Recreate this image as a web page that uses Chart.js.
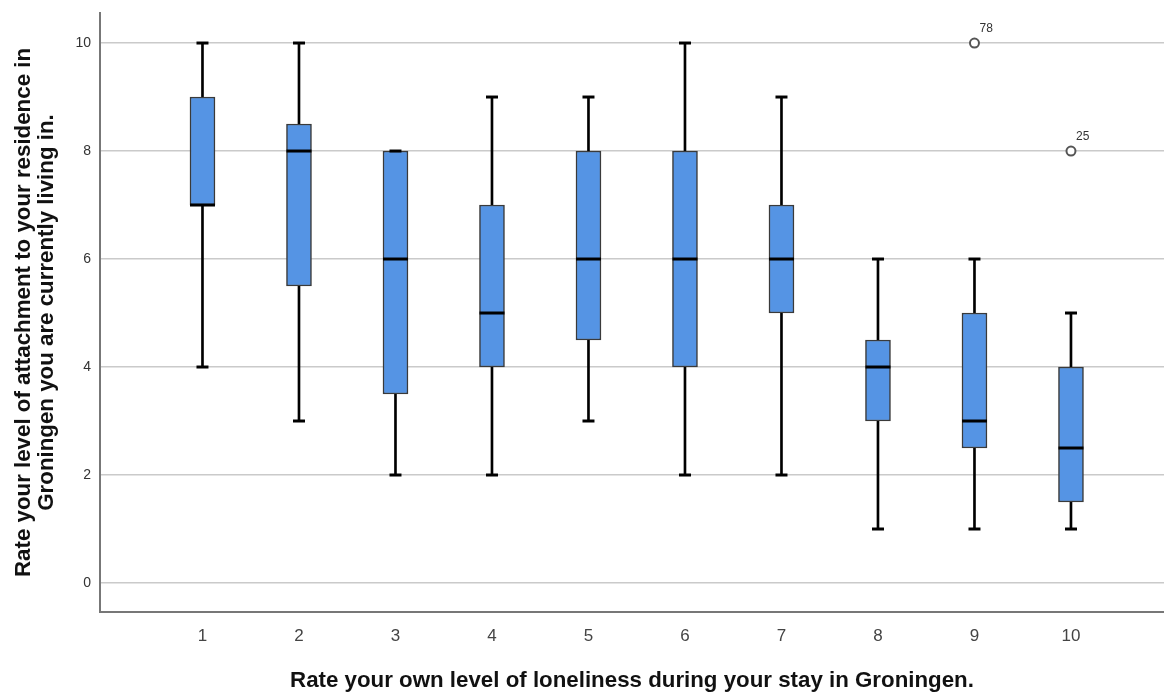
<!DOCTYPE html>
<html>
<head>
<meta charset="utf-8">
<script src="https://cdn.jsdelivr.net/npm/chart.js@4/dist/chart.umd.min.js"></script>
<style>
  html, body { margin: 0; padding: 0; background: #fff; overflow: hidden; }
  #wrap { width: 1164px; height: 692px; }
  canvas { display: block; }
</style>
</head>
<body>
<div id="wrap"><canvas id="box"></canvas></div>
<script>
// boxplot summary, one entry per loneliness rating
const categories = [1, 2, 3, 4, 5, 6, 7, 8, 9, 10];
const whiskerLow = [4, 3, 2, 2, 3, 2, 2, 1, 1, 1];
const q1 = [7, 5.5, 3.5, 4, 4.5, 4, 5, 3, 2.5, 1.5];
const median = [7, 8, 6, 5, 6, 6, 6, 4, 3, 2.5];
const q3 = [9, 8.5, 8, 7, 8, 8, 7, 4.5, 5, 4];
const whiskerHigh = [10, 10, 8, 9, 9, 10, 9, 6, 6, 5];

// outliers (case numbers shown next to the circles)
const outlierCategory = [9, 10];
const outlierValue = [10, 8];
const outlierCase = ['78', '25'];

const yTicks = [0, 2, 4, 6, 8, 10];

const FONT = 'Arial, "Liberation Sans", sans-serif';

const lowerWhisker = categories.map((c, i) => ({ x: c, y: [whiskerLow[i], q1[i]] }));
const upperWhisker = categories.map((c, i) => ({ x: c, y: [q3[i], whiskerHigh[i]] }));
const boxes = categories.map((c, i) => ({ x: c, y: [q1[i], q3[i]] }));
const caps = categories.flatMap((c, i) => [{ x: c, y: whiskerLow[i] }, { x: c, y: whiskerHigh[i] }]);
const medians = categories.map((c, i) => ({ x: c, y: median[i] }));
const outliers = outlierCategory.map((c, i) => ({ x: c, y: outlierValue[i] }));

// case labels beside outlier circles
const outlierLabels = {
  id: 'outlierLabels',
  afterDatasetsDraw(chart) {
    const { ctx, scales } = chart;
    ctx.save();
    ctx.font = '12px ' + FONT;
    ctx.fillStyle = '#333';
    ctx.textBaseline = 'middle';
    ctx.textAlign = 'left';
    outlierCase.forEach((t, i) => {
      const px = scales.x.getPixelForValue(outlierCategory[i]);
      const py = scales.y.getPixelForValue(outlierValue[i]);
      ctx.fillText(t, px + 5, py - 14);
    });
    ctx.restore();
  }
};

new Chart(document.getElementById('box'), {
  type: 'bar',
  data: {
    datasets: [
      {
        data: lowerWhisker, backgroundColor: '#000', borderWidth: 0,
        barThickness: 2, grouped: false, order: 5
      },
      {
        data: upperWhisker, backgroundColor: '#000', borderWidth: 0,
        barThickness: 2, grouped: false, order: 5
      },
      {
        data: boxes, backgroundColor: '#5594e4', borderColor: '#3a3a3a',
        borderWidth: 1.5, borderSkipped: false, barThickness: 25, grouped: false, order: 4
      },
      {
        type: 'line', data: caps, showLine: false, pointStyle: 'line',
        pointRadius: 6, borderColor: '#000', pointBorderWidth: 3, order: 3
      },
      {
        type: 'line', data: medians, showLine: false, pointStyle: 'line',
        pointRadius: 12.5, borderColor: '#000', pointBorderWidth: 3, order: 2
      },
      {
        type: 'line', data: outliers, showLine: false, pointStyle: 'circle',
        pointRadius: 4.5, pointBackgroundColor: '#fff', borderColor: '#555',
        pointBorderWidth: 2, order: 1
      }
    ]
  },
  options: {
    responsive: true,
    maintainAspectRatio: false,
    animation: false,
    layout: { autoPadding: false, padding: { top: 13, right: 0, left: 0, bottom: 0 } },
    plugins: { legend: { display: false }, tooltip: { enabled: false } },
    scales: {
      x: {
        type: 'linear',
        min: -0.062,
        max: 10.964,
        offset: false,
        afterBuildTicks: s => { s.ticks = categories.map(v => ({ value: v })); },
        afterFit: s => { s.height = 80; s.paddingLeft = 0; s.paddingRight = 0; },
        grid: { display: false, drawTicks: false },
        border: { color: '#777', width: 2 },
        ticks: {
          padding: 14, color: '#444', font: { family: FONT, size: 17 },
          callback: v => String(v)
        },
        title: {
          display: true,
          text: 'Rate your own level of loneliness during your stay in Groningen.',
          color: '#111',
          font: { family: FONT, size: 22.3, weight: 'bold', lineHeight: 1 },
          padding: { top: 0, bottom: 0 }
        }
      },
      y: {
        min: -0.537,
        max: 10.556,
        afterBuildTicks: s => { s.ticks = yTicks.map(v => ({ value: v })); },
        afterFit: s => { s.width = 100; s.paddingTop = 0; s.paddingBottom = 0; },
        grid: { color: '#cacaca', lineWidth: 1.5, drawTicks: false },
        border: { color: '#777', width: 2 },
        ticks: { padding: 9, color: '#333', font: { family: FONT, size: 14 } },
        title: {
          display: true,
          text: ['Rate your level of attachment to your residence in',
                 'Groningen you are currently living in.'],
          color: '#111',
          font: { family: FONT, size: 22.3, weight: 'bold', lineHeight: 1 },
          padding: { top: 13, bottom: 0 }
        }
      }
    }
  },
  plugins: [outlierLabels]
});
</script>
</body>
</html>
